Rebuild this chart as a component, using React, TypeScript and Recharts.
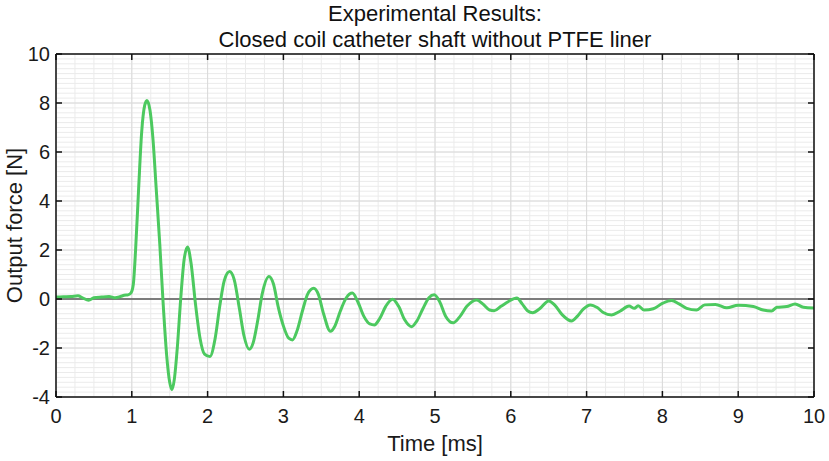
import React from 'react';
import { LineChart, Line, XAxis, YAxis, CartesianGrid, ReferenceLine, Label } from 'recharts';

const timeMs = [
  0, 0.1, 0.2, 0.29, 0.35, 0.43, 0.5, 0.6, 0.7, 0.78, 0.85, 0.9, 0.95, 0.99,
  1.02, 1.05, 1.09, 1.13, 1.17, 1.2, 1.24, 1.28, 1.32, 1.37, 1.41, 1.46, 1.5, 1.53, 1.56, 1.6,
  1.645, 1.69, 1.735, 1.78, 1.84, 1.9, 1.96, 2.03, 2.1, 2.16, 2.22, 2.29, 2.35, 2.42, 2.48, 2.55,
  2.6, 2.66, 2.72, 2.81, 2.87, 2.93, 3.0, 3.07, 3.12, 3.18, 3.25, 3.32, 3.4, 3.46, 3.53, 3.62,
  3.68, 3.75, 3.83, 3.91, 3.98, 4.06, 4.14, 4.2, 4.27, 4.35, 4.44, 4.52, 4.6, 4.69, 4.76, 4.84,
  4.92, 4.99, 5.06, 5.14, 5.24, 5.32, 5.42, 5.55, 5.63, 5.72, 5.78, 5.87, 5.97, 6.08, 6.15, 6.22,
  6.29, 6.38, 6.5, 6.58, 6.68, 6.8, 6.88, 6.96, 7.05, 7.14, 7.22, 7.33, 7.44, 7.56, 7.63, 7.68,
  7.76, 7.88, 8.0, 8.12, 8.22, 8.32, 8.45, 8.56, 8.7, 8.85, 9.0, 9.2, 9.33, 9.44, 9.51, 9.64,
  9.75, 9.86, 10,
];
const forceN = [
  0.08, 0.09, 0.1, 0.13, 0.05, -0.05, 0.05, 0.08, 0.1, 0.05, 0.1, 0.15, 0.17, 0.25,
  0.6, 2.0, 4.5, 6.8, 7.9, 8.1, 7.7, 6.5, 4.6, 2.2, 0, -2.3, -3.4, -3.7, -3.3, -2.0,
  0, 1.6, 2.12, 1.5, -0.2, -1.6, -2.25, -2.35, -1.6, -0.3, 0.75, 1.12, 0.8, -0.4, -1.5, -2.05,
  -1.8, -0.9, 0.2, 0.92, 0.6, -0.3, -1.1, -1.6, -1.67, -1.3, -0.5, 0.2, 0.44, 0.2, -0.6, -1.32,
  -1.1, -0.5, 0.05, 0.24, -0.1, -0.7, -1.02, -1.06, -0.8, -0.3, -0.01, -0.3, -0.85, -1.13, -0.9, -0.4,
  0.05, 0.17, -0.1, -0.7, -0.97, -0.75, -0.3, -0.04, -0.2, -0.45, -0.48, -0.3, -0.1, 0.04, -0.2, -0.48,
  -0.56, -0.4, -0.08, -0.25, -0.65, -0.9, -0.7, -0.4, -0.24, -0.35, -0.55, -0.65, -0.5, -0.29, -0.38, -0.28,
  -0.45, -0.4, -0.18, -0.06, -0.2, -0.38, -0.45, -0.24, -0.22, -0.36, -0.25, -0.31, -0.45, -0.49, -0.34, -0.31,
  -0.2, -0.34, -0.37,
];

const xTicks = [0, 1, 2, 3, 4, 5, 6, 7, 8, 9, 10];
const yTicks = [-4, -2, 0, 2, 4, 6, 8, 10];
const titleLines = ['Experimental Results:', 'Closed coil catheter shaft without PTFE liner'];

// minor grid: every 0.25 ms and every 0.2 N
const xMinor = Array.from({ length: 41 }, (_, i) => i * 0.25);
const yMinor = Array.from({ length: 71 }, (_, i) => Math.round((-4 + i * 0.2) * 10) / 10);

const data = timeMs.map((t, i) => ({ t, force: forceN[i] }));

const FONT = '"Liberation Sans", Arial, sans-serif';
const INK = '#111';
const noTick = () => null;

export default function App() {
  return (
    <div style={{ position: 'absolute', left: 0, top: 0, width: 829, height: 461, background: '#fff', fontFamily: FONT }}>
      {titleLines.map((line, i) => (
        <div
          key={line}
          style={{
            position: 'absolute',
            left: 56,
            width: 758,
            top: 1 + i * 26,
            textAlign: 'center',
            fontSize: 22,
            lineHeight: '26px',
            color: INK,
          }}
        >
          {line}
        </div>
      ))}
      <LineChart width={829} height={461} data={data} margin={{ top: 54, right: 15, bottom: 0, left: 0 }} style={{ fontFamily: FONT }}>
        <CartesianGrid
          xAxisId="x"
          yAxisId="y"
          verticalValues={xMinor}
          horizontalValues={yMinor}
          stroke="#ebebeb"
          strokeWidth={1}
        />
        {xTicks.map((v) => (
          <ReferenceLine key={`gx${v}`} xAxisId="x" yAxisId="y" x={v} stroke="#dadada" strokeWidth={1} />
        ))}
        {yTicks.map((v) => (
          <ReferenceLine key={`gy${v}`} xAxisId="x" yAxisId="y" y={v} stroke="#dadada" strokeWidth={1} />
        ))}
        <XAxis
          xAxisId="x"
          dataKey="t"
          type="number"
          domain={[0, 10]}
          ticks={xTicks}
          interval={0}
          allowDataOverflow
          height={64}
          tickLine={false}
          tickSize={0}
          tickMargin={12}
          axisLine={{ stroke: INK, strokeWidth: 1.5 }}
          tick={{ fontSize: 20, fill: '#1a1a1a' }}
        >
          <Label value="Time [ms]" position="insideBottom" offset={10} style={{ fontSize: 22, fill: '#1a1a1a' }} />
        </XAxis>
        <XAxis xAxisId="bm" dataKey="t" type="number" domain={[0, 10]} allowDataOverflow ticks={xTicks} interval={0} mirror tickSize={6} axisLine={false} tickLine={{ stroke: INK, strokeWidth: 1.5 }} tick={noTick} />
        <XAxis xAxisId="top" dataKey="t" orientation="top" type="number" domain={[0, 10]} allowDataOverflow ticks={xTicks} interval={0} mirror tickSize={6} axisLine={{ stroke: INK, strokeWidth: 1.5 }} tickLine={{ stroke: INK, strokeWidth: 1.5 }} tick={noTick} />
        <YAxis
          yAxisId="y"
          dataKey="force"
          type="number"
          domain={[-4, 10]}
          ticks={yTicks}
          interval={0}
          allowDataOverflow
          width={56}
          tickLine={false}
          tickSize={0}
          tickMargin={6}
          axisLine={{ stroke: INK, strokeWidth: 1.5 }}
          tick={{ fontSize: 20, fill: '#1a1a1a' }}
        >
          <Label value="Output force [N]" angle={-90} position="insideLeft" offset={14} style={{ fontSize: 22, fill: '#1a1a1a', textAnchor: 'middle' }} />
        </YAxis>
        <YAxis yAxisId="lm" dataKey="force" type="number" domain={[-4, 10]} allowDataOverflow ticks={yTicks} interval={0} mirror tickSize={6} axisLine={false} tickLine={{ stroke: INK, strokeWidth: 1.5 }} tick={noTick} />
        <YAxis yAxisId="right" dataKey="force" orientation="right" type="number" domain={[-4, 10]} allowDataOverflow ticks={yTicks} interval={0} mirror tickSize={6} axisLine={{ stroke: INK, strokeWidth: 1.5 }} tickLine={{ stroke: INK, strokeWidth: 1.5 }} tick={noTick} />
        <ReferenceLine xAxisId="x" yAxisId="y" y={0} stroke="#5a5a5a" strokeWidth={1.5} />
        <Line
          xAxisId="x"
          yAxisId="y"
          type="monotone"
          dataKey="force"
          stroke="#4cc95f"
          strokeWidth={3}
          dot={false}
          isAnimationActive={false}
        />
      </LineChart>
    </div>
  );
}
